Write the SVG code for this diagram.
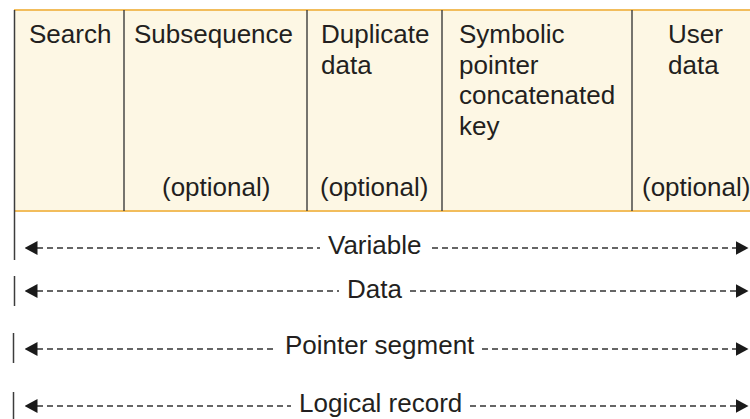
<svg xmlns="http://www.w3.org/2000/svg" width="750" height="419" viewBox="0 0 750 419">
  <style>
    .t { font-family: "Liberation Sans", Arial, Helvetica, sans-serif; font-size: 26px; fill: #231f20; }
    .cell { fill: #fdf7e4; stroke: none; }
    .div { stroke: #3c3c3c; stroke-width: 1.4; }
    .edge { stroke: #f2bd5c; stroke-width: 2; }
    .tick { stroke: #3c3c3c; stroke-width: 1.5; }
    .dash { stroke: #333333; stroke-width: 1.6; stroke-dasharray: 6 4; fill: none; }
  </style>
  <defs>
    <marker id="ah" markerUnits="userSpaceOnUse" markerWidth="13" markerHeight="14" refX="0.5" refY="7" orient="auto-start-reverse" viewBox="0 0 13 14">
      <path d="M0,0 L13,7 L0,14 Z" fill="#1a1a1a"/>
    </marker>
  </defs>
  <rect width="750" height="419" fill="#ffffff"/>

  <g id="record">
    <rect class="cell" x="14" y="10" width="736" height="201"/>
    <line class="edge" x1="14" y1="10" x2="750" y2="10"/>
    <line class="edge" x1="14" y1="211" x2="750" y2="211"/>
  </g>

  <g id="search">
    <text class="t" x="29" y="43">Search</text>
  </g>
  <g id="subsequence">
    <line class="div" x1="124" y1="10" x2="124" y2="211"/>
    <text class="t" x="134" y="43">Subsequence</text>
    <text class="t" x="162" y="196">(optional)</text>
  </g>
  <g id="duplicate">
    <line class="div" x1="307" y1="10" x2="307" y2="211"/>
    <text class="t" x="321" y="43">Duplicate</text>
    <text class="t" x="321" y="74">data</text>
    <text class="t" x="320" y="196">(optional)</text>
  </g>
  <g id="symbolic">
    <line class="div" x1="442" y1="10" x2="442" y2="211"/>
    <text class="t" x="459" y="43">Symbolic</text>
    <text class="t" x="459" y="73.5">pointer</text>
    <text class="t" x="459" y="104">concatenated</text>
    <text class="t" x="459" y="134.5">key</text>
  </g>
  <g id="userdata">
    <line class="div" x1="632" y1="10" x2="632" y2="211"/>
    <text class="t" x="668" y="43">User</text>
    <text class="t" x="668" y="74">data</text>
    <text class="t" x="642" y="196">(optional)</text>
  </g>

  <g id="connectors">
    <line class="tick" x1="14.5" y1="10" x2="14.5" y2="260"/>
    <line class="dash" x1="37" y1="248" x2="320" y2="248" marker-start="url(#ah)"/>
    <line class="dash" x1="432" y1="248" x2="736" y2="248" marker-end="url(#ah)"/>
    <text class="t" x="328" y="254">Variable</text>

    <line class="tick" x1="14.5" y1="276" x2="14.5" y2="306"/>
    <line class="dash" x1="37" y1="291" x2="339" y2="291" marker-start="url(#ah)"/>
    <line class="dash" x1="410" y1="291" x2="736" y2="291" marker-end="url(#ah)"/>
    <text class="t" x="347" y="298">Data</text>

    <line class="tick" x1="13.5" y1="333" x2="13.5" y2="363"/>
    <line class="dash" x1="37" y1="349" x2="277" y2="349" marker-start="url(#ah)"/>
    <line class="dash" x1="482" y1="349" x2="736" y2="349" marker-end="url(#ah)"/>
    <text class="t" x="285" y="354">Pointer segment</text>

    <line class="tick" x1="13.5" y1="392" x2="13.5" y2="419"/>
    <line class="dash" x1="37" y1="406" x2="291" y2="406" marker-start="url(#ah)"/>
    <line class="dash" x1="470" y1="406" x2="736" y2="406" marker-end="url(#ah)"/>
    <text class="t" x="299" y="412">Logical record</text>
  </g>
</svg>
